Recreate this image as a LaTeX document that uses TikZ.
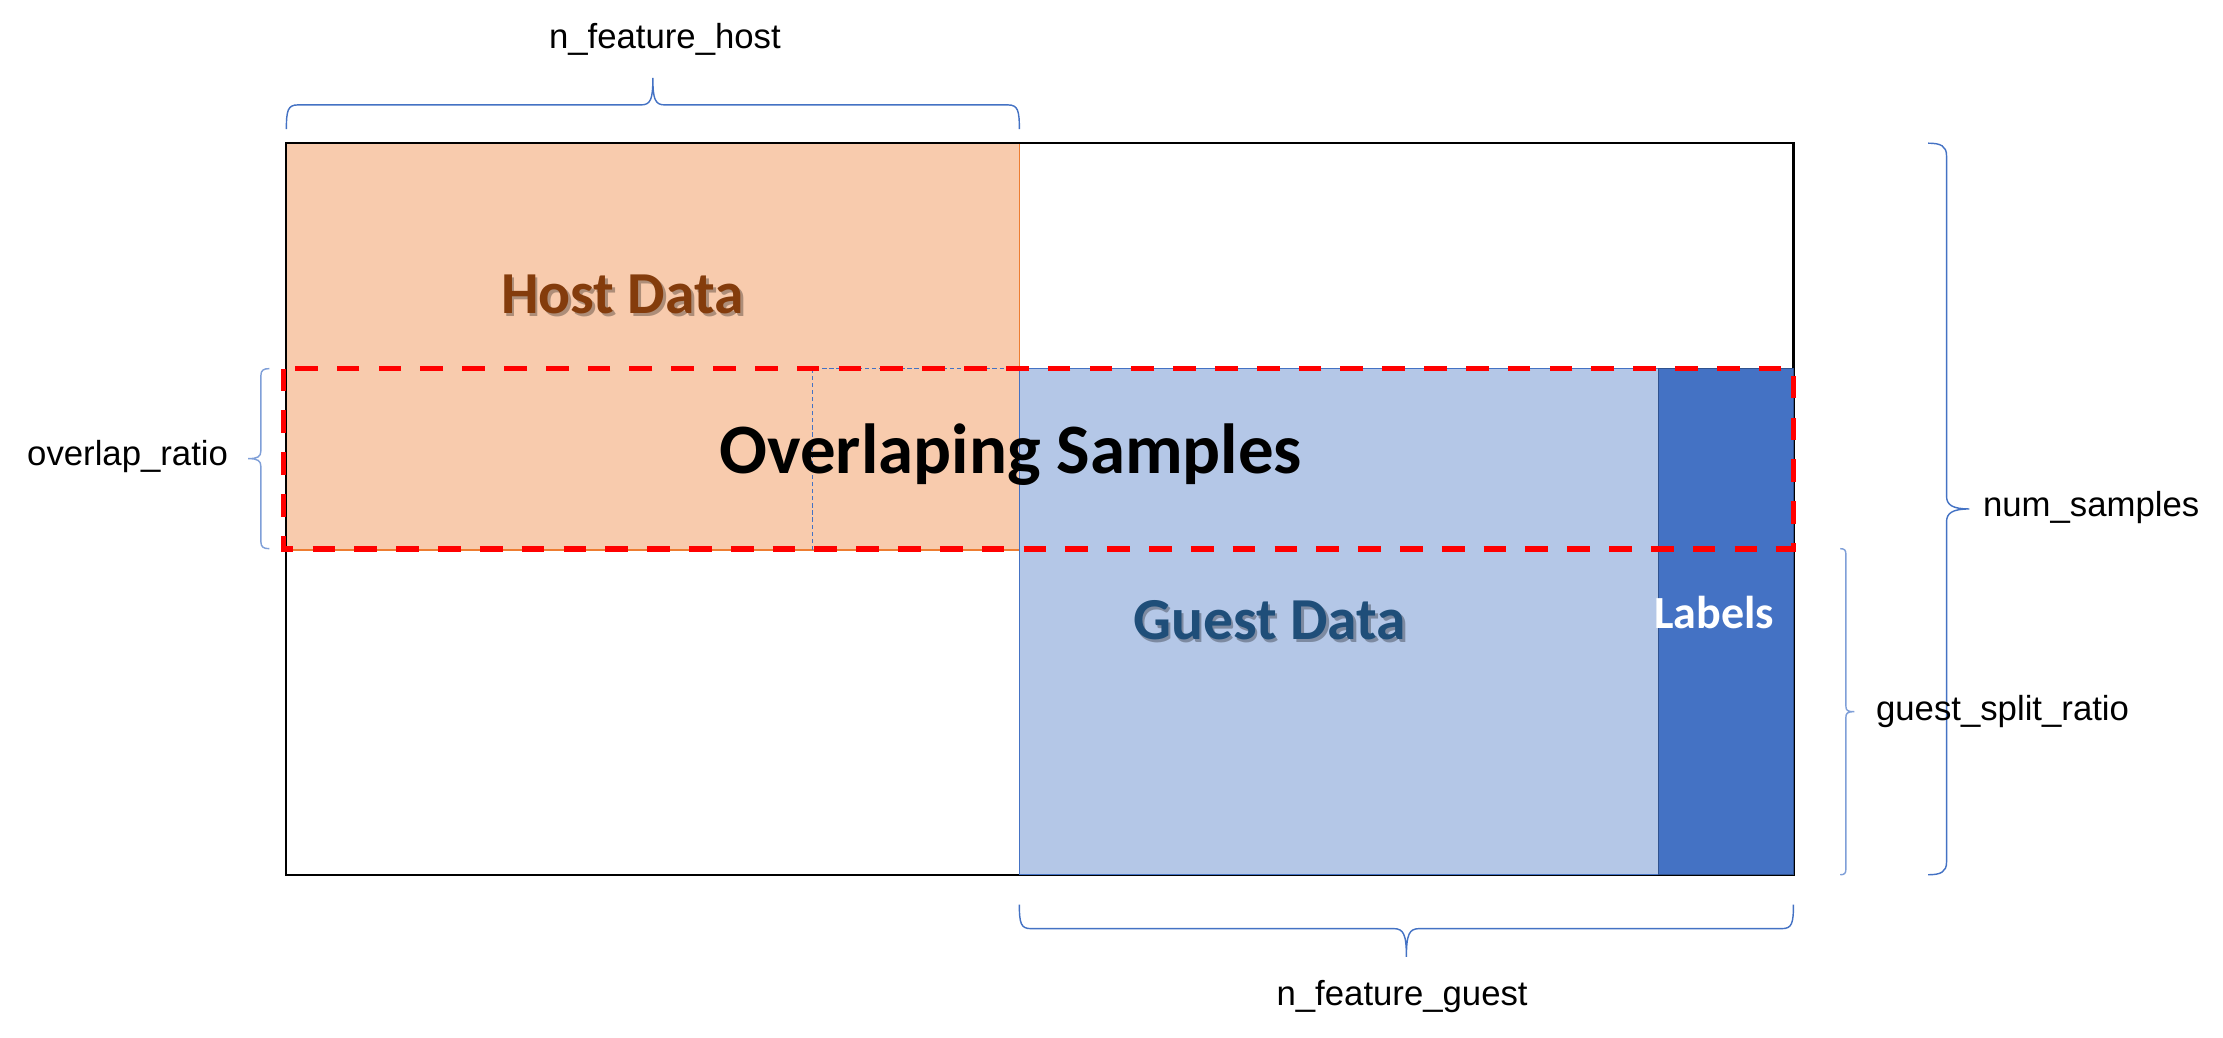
\documentclass[tikz,border=0pt]{standalone}
\usepackage{fontspec}
\setmainfont{Liberation Sans}
\newfontfamily\calfont{Carlito}
\definecolor{hostfill}{HTML}{F8CBAD}
\definecolor{hostline}{HTML}{ED7D31}
\definecolor{hosttext}{HTML}{843C0C}
\definecolor{guestfill}{HTML}{B4C7E7}
\definecolor{guestline}{HTML}{4472C4}
\definecolor{guesttext}{HTML}{1F4E79}
\definecolor{labfill}{HTML}{4472C4}
\definecolor{labline}{HTML}{2F528F}
\definecolor{bracecol}{HTML}{4472C4}
\definecolor{bracelight}{HTML}{7F9FD8}
\tikzset{
  dimlabel/.style={anchor=base, inner sep=0pt, font=\fontsize{24.5}{29}\selectfont},
  bigbold/.style={anchor=base, inner sep=0pt, font=\calfont\bfseries\fontsize{42}{50}\selectfont},
  bracestyle/.style={draw=bracecol, line width=1pt},
  bracelightstyle/.style={draw=bracelight, line width=1pt},
  redbox/.style={draw=red, line width=4pt, dash pattern=on 16pt off 13.5pt},
  shadowtext/.style={text=black, opacity=0.3}
}
\begin{document}
\begin{tikzpicture}[x=1pt,y=-1pt]
\useasboundingbox (0,0) rectangle (1568,731.5);
\fill[white] (0,0) rectangle (1568,731.5);
% host data block
\draw[fill=hostfill, draw=hostline, line width=1pt] (202,101) rectangle (719,388);
% outer frame
\draw[black, line width=1.5pt] (202,101) rectangle (1265,617);
% guest data block
\draw[fill=guestfill, draw=guestline, line width=0.8pt] (719,260) rectangle (1170,617);
% labels column
\draw[fill=labfill, draw=labline, line width=1pt] (1170,260) rectangle (1265,617);
% thin dotted blue outline
\coordinate (dA) at (573,388);
\coordinate (dB) at (573,260);
\coordinate (dC) at (719,260);
\draw[guestline, line width=0.8pt, dash pattern=on 3pt off 2pt] (dA) -- (dB) -- (dC);
% red dashed overlap box
\draw[redbox] (200,260) rectangle (1265,387);

% braces
\draw[bracestyle] (202,91) .. controls (202,78) and (203,74) .. (210,74) -- (452,74)
  .. controls (459,74) and (460.5,70) .. (460.5,55)
  .. controls (460.5,70) and (462,74) .. (469,74) -- (711,74)
  .. controls (718,74) and (719,78) .. (719,91);
\draw[bracestyle] (719,638) .. controls (719,651) and (720,655) .. (727,655) -- (983,655)
  .. controls (990,655) and (992,659) .. (992,675)
  .. controls (992,659) and (994,655) .. (1001,655) -- (1257,655)
  .. controls (1264,655) and (1265,651) .. (1265,638);
\draw[bracelightstyle] (190,260) .. controls (186,260) and (184,261) .. (184,265) -- (184,318)
  .. controls (184,322) and (182,323.5) .. (175,323.5)
  .. controls (182,323.5) and (184,325) .. (184,329) -- (184,382)
  .. controls (184,386) and (186,387) .. (190,387);
\draw[bracestyle] (1360,101) .. controls (1369,101) and (1373,103) .. (1373,110) -- (1373,350)
  .. controls (1373,356) and (1377,359) .. (1389,359)
  .. controls (1377,359) and (1373,362) .. (1373,368) -- (1373,608)
  .. controls (1373,615) and (1369,617) .. (1360,617);
\draw[bracelightstyle] (1298,387) .. controls (1301,387) and (1302,388) .. (1302,391) -- (1302,498)
  .. controls (1302,501) and (1303,502) .. (1308,502)
  .. controls (1303,502) and (1302,503) .. (1302,506) -- (1302,613)
  .. controls (1302,616) and (1301,617) .. (1298,617);

% dimension labels
\node[dimlabel] (nfh) at (469,34) {n\_feature\_host};
\node[dimlabel] (ovr) at (90,328.6) {overlap\_ratio};
\node[dimlabel] (nsm) at (1475,364.5) {num\_samples};
\node[dimlabel] (gsr) at (1412.5,508) {guest\_split\_ratio};
\node[dimlabel] (nfg) at (989,709) {n\_feature\_guest};

% block titles
\node[bigbold, shadowtext] (hostsh) at (441,223) {Host Data};
\node[bigbold, text=hosttext] (host) at (439,221) {Host Data};
\node[bigbold, shadowtext] (guestsh) at (897.5,453) {Guest Data};
\node[bigbold, text=guesttext] (guest) at (895.5,451) {Guest Data};
\node[bigbold, font=\calfont\bfseries\fontsize{50}{60}\selectfont, text=black] (ovl) at (713,334) {Overlaping Samples};
\node[bigbold, font=\calfont\bfseries\fontsize{32.5}{39}\selectfont, text=white] (lab) at (1209,443.6) {Labels};
\end{tikzpicture}
\end{document}
